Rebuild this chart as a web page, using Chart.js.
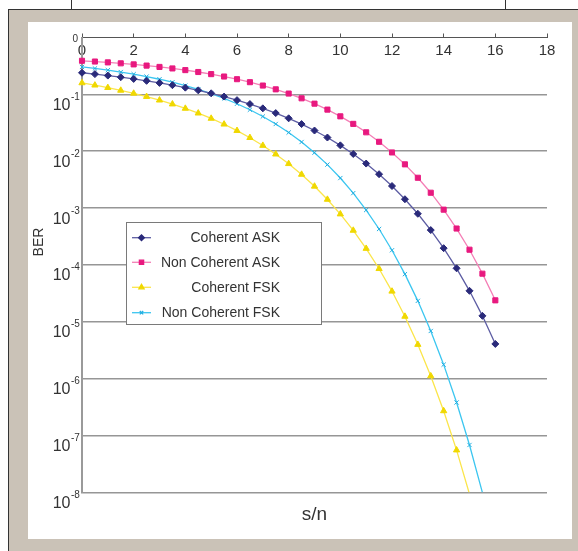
<!DOCTYPE html>
<html><head><meta charset="utf-8">
<script src="https://cdn.jsdelivr.net/npm/chart.js@4.4.1/dist/chart.umd.min.js"></script>
<style>
html,body{margin:0;padding:0;background:#fff;width:578px;height:551px;overflow:hidden;}
#frame{position:absolute;left:8px;top:9px;width:570px;height:542px;background:#cac2b7;border-left:1px solid #333;border-top:1px solid #333;box-sizing:border-box;}
#panel{position:absolute;left:28px;top:22px;width:544px;height:517px;background:#fff;}
.vl{position:absolute;top:0;width:1px;height:9px;background:#333;}
canvas{position:absolute;left:0;top:0;}
</style></head><body>
<div class="vl" style="left:71px"></div><div class="vl" style="left:505px"></div>
<div id="frame"></div><div id="panel"></div>
<canvas id="c" width="578" height="551"></canvas>
<script>
// ---- data ----
const seriesNames = ['Coherent ASK', 'Non Coherent ASK', 'Coherent FSK', 'Non Coherent FSK'];
const snrASK = [0,0.5,1,1.5,2,2.5,3,3.5,4,4.5,5,5.5,6,6.5,7,7.5,8,8.5,9,9.5,10,10.5,11,11.5,12,12.5,13,13.5,14,14.5,15,15.5,16];
const snrCohFSK = [0,0.5,1,1.5,2,2.5,3,3.5,4,4.5,5,5.5,6,6.5,7,7.5,8,8.5,9,9.5,10,10.5,11,11.5,12,12.5,13,13.5,14,14.5,15];
const snrNonCohFSK = [0,0.5,1,1.5,2,2.5,3,3.5,4,4.5,5,5.5,6,6.5,7,7.5,8,8.5,9,9.5,10,10.5,11,11.5,12,12.5,13,13.5,14,14.5,15,15.5];
const berCohASK = [0.2398,0.2269,0.2138,0.2004,0.1867,0.1729,0.1590,0.1451,0.1312,0.1176,0.1043,0.0914,0.0791,0.0675,0.0567,0.0468,0.0379,0.0300,0.0231,0.0174,0.01267,0.00893,0.00606,0.00394,0.00244,0.00143,0.000793,0.000410,0.000197,0.0000871,0.0000350,0.0000127,0.00000407];
const berNonCohASK = [0.3894,0.3777,0.3650,0.3513,0.3365,0.3206,0.3036,0.2857,0.2668,0.2472,0.2268,0.2059,0.1848,0.1637,0.1428,0.1225,0.1032,0.0852,0.0686,0.0539,0.04104,0.03025,0.02149,0.01464,0.00951,0.00587,0.00341,0.00186,0.000937,0.000436,0.000185,0.0000701,0.0000238];
const berCohFSK = [0.1587,0.1447,0.1309,0.1173,0.1040,0.0912,0.0789,0.0673,0.0565,0.0466,0.0377,0.0298,0.0230,0.01728,0.01259,0.00886,0.00601,0.00390,0.00241,0.001416,0.000783,0.000404,0.000194,0.0000856,0.0000343,0.0000124,0.00000397,0.00000111,0.000000270,0.0000000552,0.0000000093];
const berNonCohFSK = [0.3033,0.2853,0.2664,0.2468,0.2264,0.2055,0.1844,0.1633,0.1424,0.1222,0.1029,0.0848,0.0683,0.0536,0.0408,0.0301,0.0213,0.01451,0.00942,0.00581,0.00337,0.00183,0.000923,0.000428,0.000181,0.0000687,0.0000233,0.00000688,0.00000176,0.000000380,0.0000000680,0.0000000099];
const xTickValues = [0,2,4,6,8,10,12,14,16,18];
const yTickValues = [1,1e-1,1e-2,1e-3,1e-4,1e-5,1e-6,1e-7,1e-8];
const yTickBase = ['', '10','10','10','10','10','10','10','10'];
const yTickExp = ['0','-1','-2','-3','-4','-5','-6','-7','-8'];
const xTitle = 's/n';
const yTitle = 'BER';

// ---- chart ----
Chart.defaults.font.family = "'Liberation Sans', Arial, sans-serif";
const zip = (xs, ys) => xs.map((x, i) => ({x: x, y: ys[i]}));
const pr = r => (ctx => (ctx.raw && ctx.raw.y < 1e-8) ? 0 : r);

const styles = [
  {line:'#5d5da3', pt:'#2a2a7a', style:'rectRot', r:3.5},
  {line:'#f47fb6', pt:'#e8197f', style:'rect', r:3.6},
  {line:'#fbe54a', pt:'#f0d800', style:'triangle', r:3.6},
  {line:'#3cc6f0', pt:'#22aee0', style:'crossRot', r:3}
];
const dataSets = [zip(snrASK, berCohASK), zip(snrASK, berNonCohASK), zip(snrCohFSK, berCohFSK), zip(snrNonCohFSK, berNonCohFSK)];

const datasets = dataSets.map((d, i) => ({
  label: seriesNames[i],
  data: d,
  borderColor: styles[i].line,
  borderWidth: 1.3,
  backgroundColor: styles[i].pt,
  pointBackgroundColor: styles[i].pt,
  pointBorderColor: styles[i].pt,
  pointBorderWidth: 1,
  pointStyle: styles[i].style,
  pointRadius: pr(styles[i].r),
  tension: 0,
  clip: {left: 6, top: 6, right: 6, bottom: 0},
  xAxisID: 'x', yAxisID: 'y'
}));

const yLabelPlugin = {
  id: 'yLabels',
  afterDraw(chart) {
    const ctx = chart.ctx, y = chart.scales.y;
    ctx.save();
    ctx.fillStyle = '#333';
    yTickValues.forEach((v, i) => {
      const p = y.getPixelForValue(v);
      if (yTickBase[i]) {
        ctx.font = "16px 'Liberation Sans', Arial, sans-serif";
        ctx.textAlign = 'right'; ctx.textBaseline = 'alphabetic';
        ctx.fillText(yTickBase[i], 70.5, p + 15.5);
        ctx.font = "10px 'Liberation Sans', Arial, sans-serif";
        ctx.textAlign = 'left';
        ctx.fillText(yTickExp[i], 71, p + 5.5);
      } else {
        ctx.font = "10px 'Liberation Sans', Arial, sans-serif";
        ctx.textAlign = 'left'; ctx.textBaseline = 'alphabetic';
        ctx.fillText(yTickExp[i], 72.5, p + 4);
      }
    });
    // y axis title
    ctx.translate(39, 242);
    ctx.rotate(-Math.PI / 2);
    ctx.font = "14px 'Liberation Sans', Arial, sans-serif";
    ctx.textAlign = 'center'; ctx.textBaseline = 'middle';
    ctx.fillText(yTitle, 0, 0);
    ctx.restore();
  }
};

const legendPlugin = {
  id: 'boxLegend',
  afterDraw(chart) {
    const ctx = chart.ctx;
    const bx = 126.5, by = 222.5, bw = 195, bh = 102;
    ctx.save();
    ctx.fillStyle = '#fff';
    ctx.fillRect(bx, by, bw, bh);
    ctx.strokeStyle = '#7a7a7a'; ctx.lineWidth = 1;
    ctx.strokeRect(bx, by, bw, bh);
    const rows = [237.7, 262.3, 287.3, 312.7];
    chart.data.datasets.forEach((ds, i) => {
      const yy = rows[i];
      ctx.strokeStyle = ds.borderColor; ctx.lineWidth = 1.3;
      ctx.beginPath(); ctx.moveTo(132, yy); ctx.lineTo(151, yy); ctx.stroke();
      ctx.fillStyle = ds.pointBackgroundColor; ctx.strokeStyle = ds.pointBorderColor;
      Chart.helpers.drawPoint(ctx, {pointStyle: ds.pointStyle, radius: styles[i].r - 0.6, borderWidth: 1, rotation: 0}, 141.5, yy);
      ctx.fillStyle = '#333';
      ctx.font = "14px 'Liberation Sans', Arial, sans-serif";
      ctx.textAlign = 'right'; ctx.textBaseline = 'middle';
      ctx.fillText(ds.label, 280, yy + 0.5);
    });
    ctx.restore();
  }
};

new Chart(document.getElementById('c'), {
  type: 'line',
  data: {datasets},
  options: {
    responsive: false,
    devicePixelRatio: 1,
    animation: false,
    layout: {padding: {left: 28, right: 31, top: 22, bottom: 12}},
    plugins: {legend: {display: false}, tooltip: {enabled: false}},
    scales: {
      x: {
        type: 'linear', position: 'top', min: 0, max: 18,
        afterBuildTicks: s => { s.ticks = xTickValues.map(v => ({value: v})); },
        ticks: {mirror: true, padding: 4.5, color: '#333', font: {size: 15}, autoSkip: false, maxRotation: 0},
        grid: {drawOnChartArea: false, drawTicks: true, tickLength: 4, color: '#555', lineWidth: 1},
        border: {display: true, color: '#555', width: 1},
        afterFit: s => { s.height = 15.5; }
      },
      x2: {
        type: 'linear', position: 'bottom', min: 0, max: 18,
        ticks: {display: false}, grid: {display: false}, border: {display: false},
        title: {display: true, text: xTitle, color: '#333', font: {size: 19}, padding: {top: 0, bottom: 13}},
        afterFit: s => { s.height = 46.7; }
      },
      y: {
        type: 'logarithmic', position: 'left', min: 1e-8, max: 1,
        afterBuildTicks: s => { s.ticks = yTickValues.map(v => ({value: v})); },
        ticks: {display: false},
        grid: {color: c => (c.tick && c.tick.value === 1) ? 'rgba(0,0,0,0)' : '#969696', lineWidth: 1.6, drawTicks: false},
        border: {display: true, color: '#9a9a9a', width: 2},
        afterFit: s => { s.width = 54; }
      }
    }
  },
  plugins: [yLabelPlugin, legendPlugin]
});
</script>
</body></html>
